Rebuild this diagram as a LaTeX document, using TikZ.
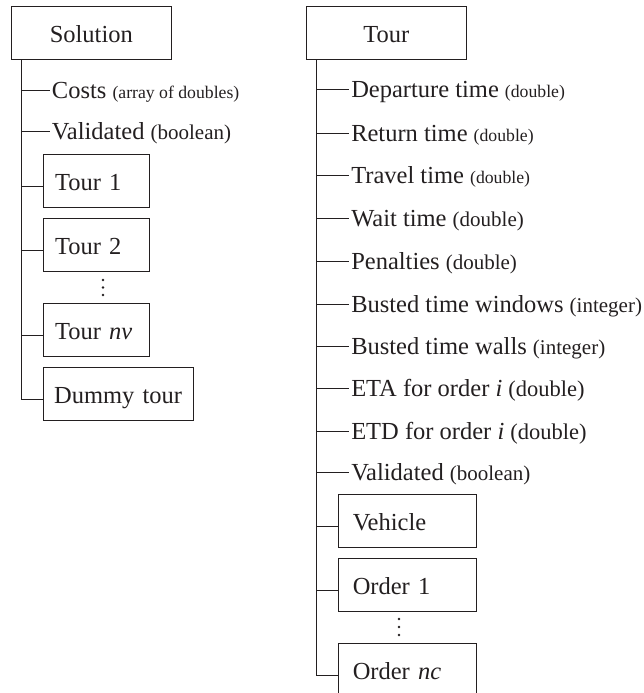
\documentclass[tikz,border=0pt]{standalone}
\usepackage{fontspec}
\setmainfont{Liberation Serif}
\definecolor{ink}{RGB}{35,31,32}
\newcommand{\mainsz}{\fontsize{24.5}{28}\selectfont}
\newcommand{\parA}[1]{{\fontsize{17.7}{20}\selectfont #1}}
\newcommand{\parB}[1]{{\fontsize{21}{24}\selectfont #1}}
\newcommand{\parC}[1]{{\fontsize{22.5}{26}\selectfont #1}}
\begin{document}
\begin{tikzpicture}[x=1pt,y=-1pt,line width=0.9pt,color=ink,
  head/.style={draw,anchor=north west,minimum width=159.7pt,minimum height=53pt,inner sep=0pt,
    text height=22.5pt,text depth=3.5pt,font=\mainsz},
  box/.style={draw,anchor=north west,minimum height=53pt,inner xsep=12pt,inner ysep=0pt,
    align=left,text height=22.5pt,text depth=3.5pt,font=\mainsz},
  item/.style={anchor=base west,inner xsep=1.5pt,inner ysep=0pt,font=\mainsz},
  dotm/.style={fill,circle,inner sep=0pt,minimum size=2.6pt}]
\path[use as bounding box,clip] (0,0) rectangle (644,693);
% ---------- left tree ----------
\node[head] (sol) at (11,6) {Solution};
\coordinate (trunkL) at ([xshift=10pt]sol.south west);
\node[item] (costs) at (50,98) {Costs \parA{(array of doubles)}};
\node[item] (valL) at (50,139.7) {Validated \parB{(boolean)}};
\node[box,text width=82pt] (t1) at (42.7,154) {Tour 1};
\node[box,text width=82pt] (t2) at (42.7,217.7) {Tour 2};
\node[box,text width=82pt] (tnv) at (42.7,302.7) {Tour \textit{nv}};
\node[box,inner xsep=11pt,text width=128pt] (dummy) at (42.7,366.7) {Dummy tour};
\foreach \n/\t in {costs/c1,valL/c2}{\coordinate (\t) at ([yshift=8pt]\n.base west);}
\foreach \n/\t in {t1/c3,t2/c4,tnv/c5}{\coordinate (\t) at ([yshift=-5.5pt]\n.west);}
\draw (trunkL) |- ([yshift=-5.5pt]dummy.west);
\foreach \t in {c1,c2,c3,c4,c5}{\draw (trunkL |- \t) -- (\t);}
\node[dotm] (dl1) at (103,280) {};
\node[dotm] (dl2) at (103,287.5) {};
\node[dotm] (dl3) at (103,295) {};
% ---------- right tree ----------
\node[head] (tour) at (306,6) {Tour};
\coordinate (trunkR) at ([xshift=10.7pt]tour.south west);
\node[item] (r1) at (349.3,97.3) {Departure time \parA{(double)}};
\node[item] (r2) at (349.3,141.3) {Return time \parA{(double)}};
\node[item] (r3) at (349.3,183) {Travel time \parA{(double)}};
\node[item] (r4) at (349.3,226.3) {Wait time \parB{(double)}};
\node[item] (r5) at (349.3,269) {Penalties \parB{(double)}};
\node[item] (r6) at (349.3,312.3) {Busted time windows \parB{(integer)}};
\node[item] (r7) at (349.3,354.7) {Busted time walls \parB{(integer)}};
\node[item] (r8) at (349.3,396.3) {ETA for order \textit{i} \parC{(double)}};
\node[item] (r9) at (349.3,439) {ETD for order \textit{i} \parC{(double)}};
\node[item] (r10) at (349.3,480.3) {Validated \parB{(boolean)}};
\node[box,inner xsep=14pt,text width=109.7pt] (veh) at (338.3,494.3) {Vehicle};
\node[box,inner xsep=14pt,text width=109.7pt] (o1) at (338.3,557.7) {Order 1};
\node[box,inner xsep=14pt,text width=109.7pt] (onc) at (338.3,642.7) {Order \textit{nc}};
\foreach \n in {r1,r2,r3,r4,r5,r6,r7,r8,r9,r10}{\coordinate (k\n) at ([yshift=8pt]\n.base west);}
\foreach \n in {veh,o1}{\coordinate (k\n) at ([yshift=-5.5pt]\n.west);}
\draw (trunkR) |- ([yshift=-5.5pt]onc.west);
\foreach \n in {r1,r2,r3,r4,r5,r6,r7,r8,r9,r10,veh,o1}{\draw (trunkR |- k\n) -- (k\n);}
\node[dotm] (dr1) at (399,619) {};
\node[dotm] (dr2) at (399,627) {};
\node[dotm] (dr3) at (399,635) {};
\end{tikzpicture}
\end{document}
